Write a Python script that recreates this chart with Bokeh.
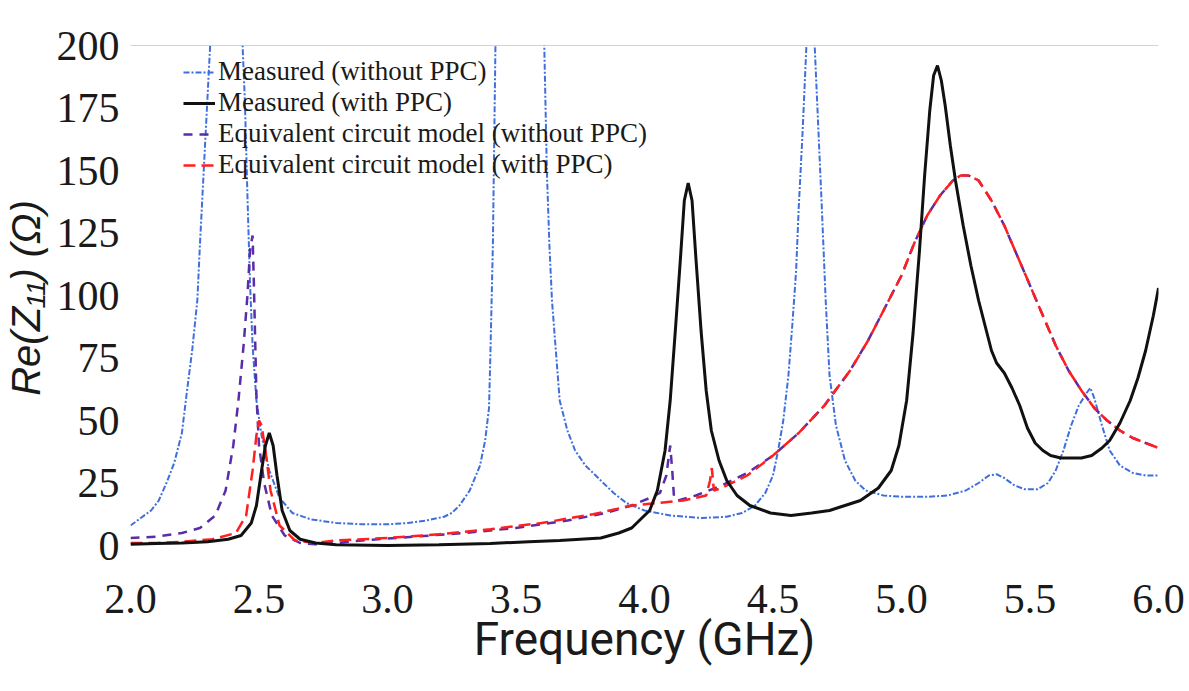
from bokeh.plotting import figure
from bokeh.models import Range1d, Legend, LegendItem, Span, FixedTicker, NumeralTickFormatter
from bokeh.embed import file_html
from bokeh.resources import INLINE

# ---------------- data ----------------
x_ticks = [2.0, 2.5, 3.0, 3.5, 4.0, 4.5, 5.0, 5.5, 6.0]
y_ticks = [0, 25, 50, 75, 100, 125, 150, 175, 200]

legend_labels = [
    "Measured (without PPC)",
    "Measured (with PPC)",
    "Equivalent circuit model (without PPC)",
    "Equivalent circuit model (with PPC)",
]

# Measured (without PPC) - blue dotted
f_meas_wo = [2.00, 2.04, 2.08, 2.11, 2.14, 2.17, 2.20, 2.22, 2.24, 2.26, 2.27, 2.28, 2.29, 2.31,
             2.37, 2.43, 2.445, 2.455, 2.465, 2.475, 2.49, 2.51, 2.54, 2.58, 2.63, 2.70, 2.80,
             2.90, 3.00, 3.08, 3.15, 3.22, 3.25, 3.28, 3.32, 3.36, 3.38, 3.395, 3.40, 3.41,
             3.42, 3.46, 3.51, 3.57, 3.61, 3.62, 3.63, 3.64, 3.655, 3.67, 3.70, 3.73, 3.77,
             3.83, 3.88, 3.93, 4.00, 4.10, 4.22, 4.32, 4.38, 4.43, 4.47, 4.50, 4.52, 4.54,
             4.56, 4.575, 4.59, 4.60, 4.615, 4.63, 4.645, 4.66, 4.675, 4.69, 4.705, 4.72,
             4.745, 4.78, 4.82, 4.86, 4.93, 5.00, 5.10, 5.18, 5.25, 5.30, 5.34, 5.37, 5.40,
             5.44, 5.48, 5.53, 5.57, 5.60, 5.63, 5.66, 5.69, 5.72, 5.735, 5.75, 5.78, 5.81,
             5.85, 5.90, 5.95, 6.00]
z_meas_wo = [8, 11, 14, 18, 25, 33, 45, 62, 78, 98, 120, 140, 160, 200,
             260, 215, 178, 140, 105, 80, 58, 44, 30, 19, 13, 10.5, 9,
             8.5, 8.5, 9, 10, 11.5, 13, 16, 22, 32, 42, 55, 75, 120,
             200, 265, 300, 265, 200, 150, 120, 98, 78, 58, 46, 38, 32,
             26, 21, 17, 14, 12, 11, 11.5, 13, 16, 21, 28, 38, 50,
             68, 88, 110, 135, 165, 200, 222, 205, 170, 135, 98, 68,
             48, 34, 26, 22, 20, 19.5, 19.5, 20, 22, 25, 28, 28.5, 27,
             24, 22.5, 22.5, 25, 30, 38, 48, 56, 61, 63, 59, 48, 38,
             32, 29, 28, 28]

# Measured (with PPC) - black solid
f_meas_w = [2.00, 2.10, 2.20, 2.30, 2.38, 2.43, 2.47, 2.49, 2.51, 2.525, 2.54, 2.555, 2.57,
            2.59, 2.62, 2.66, 2.72, 2.80, 3.00, 3.20, 3.40, 3.55, 3.67, 3.75, 3.83, 3.90,
            3.95, 3.99, 4.02, 4.05, 4.08, 4.10, 4.12, 4.14, 4.155, 4.17, 4.185, 4.20, 4.22,
            4.24, 4.26, 4.29, 4.32, 4.36, 4.41, 4.49, 4.57, 4.65, 4.72, 4.78, 4.84, 4.91,
            4.96, 4.99, 5.02, 5.045, 5.07, 5.09, 5.11, 5.125, 5.14, 5.155, 5.17, 5.19, 5.21,
            5.24, 5.27, 5.30, 5.33, 5.35, 5.37, 5.40, 5.43, 5.46, 5.49, 5.52, 5.55, 5.58,
            5.62, 5.66, 5.70, 5.74, 5.78, 5.81, 5.85, 5.89, 5.92, 5.95, 5.98, 6.00]
z_meas_w = [0.5, 0.8, 1, 1.5, 2.5, 4, 9, 16, 30, 40, 45, 40, 28,
            14, 6, 2.5, 1, 0.3, 0, 0.3, 0.8, 1.5, 2, 2.5, 3, 5,
            7, 11, 14, 22, 38, 58, 86, 115, 138, 145, 138, 115, 86,
            62, 46, 34, 26, 20, 16, 13, 12, 13, 14, 16, 18, 23,
            30, 40, 58, 85, 118, 148, 174, 188, 192, 186, 176, 160, 146,
            128, 112, 98, 86, 78, 73, 69, 63, 56, 47, 41, 38, 36,
            35, 35, 35, 36, 39, 42, 49, 58, 67, 78, 92, 103]

# Equivalent circuit model (without PPC) - purple dashed
f_eq_wo = [2.00, 2.10, 2.20, 2.27, 2.33, 2.37, 2.40, 2.42, 2.44, 2.455, 2.465, 2.475, 2.48,
           2.49, 2.50, 2.52, 2.55, 2.60, 2.66, 2.72, 2.80, 2.90, 3.10, 3.30, 3.50, 3.70,
           3.85, 3.95, 4.02, 4.06, 4.085, 4.10, 4.108, 4.115, 4.13, 4.20, 4.30, 4.40, 4.50,
           4.60, 4.70, 4.80, 4.87, 4.93, 5.00, 5.05, 5.10, 5.15, 5.20, 5.23, 5.26, 5.30,
           5.35, 5.40, 5.45, 5.50, 5.55, 5.60, 5.65, 5.70, 5.75, 5.80, 5.85, 5.90, 5.95, 6.00]
z_eq_wo = [3, 3.5, 5, 7, 12, 22, 40, 58, 80, 100, 118, 124, 105,
           60, 40, 25, 12, 4, 1, 0.5, 1, 2, 3.5, 5, 7, 10,
           13, 16, 19, 21, 28, 40, 30, 19, 18, 20, 24, 29, 36,
           45, 56, 70, 82, 94, 108, 121, 132, 140, 146, 148, 148, 146,
           138, 128, 116, 104, 92, 80, 70, 62, 55, 50, 46, 43, 41, 39]

# Equivalent circuit model (with PPC) - red dashed
f_eq_w = [2.00, 2.10, 2.20, 2.32, 2.41, 2.45, 2.475, 2.49, 2.50, 2.51, 2.525, 2.545, 2.58,
          2.64, 2.72, 2.80, 3.00, 3.20, 3.40, 3.60, 3.80, 3.95, 4.05, 4.15, 4.24, 4.255,
          4.262, 4.27, 4.30, 4.40, 4.50, 4.60, 4.70, 4.80, 4.87, 4.93, 5.00, 5.05, 5.10,
          5.15, 5.20, 5.23, 5.26, 5.30, 5.35, 5.40, 5.45, 5.50, 5.55, 5.60, 5.65, 5.70,
          5.75, 5.80, 5.85, 5.90, 5.95, 6.00]
z_eq_w = [1, 1, 1.5, 2.5, 5, 12, 30, 44, 50, 48, 38, 22, 8,
          2, 1, 2, 3, 4.5, 6.5, 9, 12.5, 16, 17, 18, 20, 26,
          31, 22, 23, 28, 36, 45, 56, 70, 82, 94, 108, 121, 132,
          140, 146, 148, 148, 146, 138, 128, 116, 104, 92, 80, 70, 62,
          55, 50, 46, 43, 41, 39]

# ---------------- figure ----------------
p = figure(width=1189, height=691, output_backend="svg", toolbar_location=None,
           x_range=Range1d(2.0, 6.0), y_range=Range1d(-2, 200),
           min_border_left=130, min_border_right=31, min_border_top=45, min_border_bottom=141)
p.outline_line_color = None
p.grid.visible = False
p.background_fill_color = "white"
p.border_fill_color = "white"

r_blue = p.line(f_meas_wo, z_meas_wo, line_color="#3f6fdc", line_width=2, line_dash="6 2 2 2")
r_purple = p.line(f_eq_wo, z_eq_wo, line_color="#5a2ca8", line_width=2.5, line_dash="9 7")
r_red = p.line(f_eq_w, z_eq_w, line_color="#ff1f1f", line_width=2.5, line_dash="12 6")
r_black = p.line(f_meas_w, z_meas_w, line_color="#111111", line_width=3)

p.add_layout(Span(location=200, dimension="width", line_color="#a8a8a8", line_width=1))

# axes
for ax in (p.xaxis[0], p.yaxis[0]):
    ax.axis_line_color = None
    ax.major_tick_line_color = None
    ax.minor_tick_line_color = None
    ax.major_label_text_font = "Liberation Serif"
    ax.major_label_text_font_size = "42px"
    ax.major_label_text_color = "#1a1a1a"

p.xaxis.ticker = FixedTicker(ticks=x_ticks)
p.xaxis.formatter = NumeralTickFormatter(format="0.0")
p.xaxis.major_label_standoff = 28
p.xaxis.axis_label = "Frequency (GHz)"
p.xaxis.axis_label_text_font = "Roboto"
p.xaxis.axis_label_text_font_size = "46px"
p.xaxis.axis_label_text_font_style = "normal"
p.xaxis.axis_label_text_color = "#1a1a1a"
p.xaxis.axis_label_standoff = -4

p.yaxis.ticker = FixedTicker(ticks=y_ticks)
p.yaxis.major_label_standoff = 5
p.yaxis.axis_label = "Re(Z\u2081\u2081) (\u03a9)"
p.yaxis.axis_label_text_font = "Liberation Sans"
p.yaxis.axis_label_text_font_size = "40px"
p.yaxis.axis_label_text_font_style = "italic"
p.yaxis.axis_label_text_color = "#1a1a1a"
p.yaxis.axis_label_standoff = 6

legend = Legend(items=[
    LegendItem(label=legend_labels[0], renderers=[r_blue]),
    LegendItem(label=legend_labels[1], renderers=[r_black]),
    LegendItem(label=legend_labels[2], renderers=[r_purple]),
    LegendItem(label=legend_labels[3], renderers=[r_red]),
], location=(53, 370))
legend.label_text_font = "Liberation Serif"
legend.label_text_font_size = "27px"
legend.label_text_color = "#1a1a1a"
legend.glyph_width = 32
legend.glyph_height = 26
legend.label_height = 26
legend.label_standoff = 3
legend.spacing = 0
legend.padding = 0
legend.margin = 0
legend.background_fill_alpha = 0
legend.border_line_alpha = 0
p.add_layout(legend)

open("out.html", "w").write(file_html(p, INLINE))
